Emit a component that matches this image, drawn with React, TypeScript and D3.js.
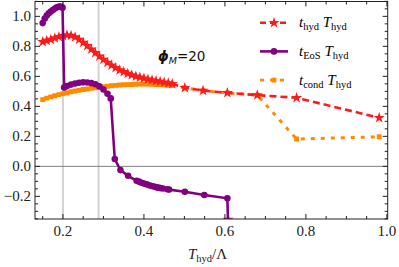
import * as d3 from "d3";

// t_hyd T_hyd (red stars, dashed)
const hydX = [0.15, 0.16, 0.17, 0.18, 0.19, 0.2, 0.21, 0.22, 0.23, 0.24, 0.25, 0.26, 0.27, 0.28, 0.29, 0.3, 0.31, 0.32, 0.33, 0.34, 0.35, 0.36, 0.37, 0.38, 0.39, 0.4, 0.41, 0.42, 0.43, 0.44, 0.45, 0.46, 0.47, 0.501, 0.546, 0.606, 0.68, 0.777, 0.981];
const hydY = [0.83, 0.838, 0.846, 0.855, 0.863, 0.87, 0.875, 0.872, 0.862, 0.845, 0.825, 0.803, 0.78, 0.757, 0.733, 0.712, 0.692, 0.674, 0.657, 0.642, 0.63, 0.619, 0.609, 0.6, 0.593, 0.587, 0.58, 0.575, 0.57, 0.565, 0.56, 0.555, 0.55, 0.524, 0.505, 0.49, 0.475, 0.457, 0.324];
// lone red star sitting on the lower frame
const hydLoneX = [0.608];
const hydLoneY = [-0.355];

// t_EoS T_hyd (purple dots, solid)
const eosX = [0.15, 0.155, 0.16, 0.165, 0.17, 0.175, 0.18, 0.185, 0.19, 0.195, 0.199, 0.203, 0.21, 0.22, 0.23, 0.24, 0.25, 0.26, 0.27, 0.28, 0.29, 0.3, 0.31, 0.318, 0.328, 0.342, 0.361, 0.382, 0.388, 0.394, 0.4, 0.407, 0.413, 0.419, 0.425, 0.431, 0.436, 0.441, 0.447, 0.458, 0.462, 0.501, 0.549, 0.606, 0.608];
const eosY = [0.955, 0.985, 1.005, 1.02, 1.032, 1.042, 1.052, 1.06, 1.065, 1.066, 1.058, 0.525, 0.535, 0.545, 0.552, 0.557, 0.56, 0.559, 0.555, 0.547, 0.533, 0.512, 0.484, 0.453, 0.049, -0.025, -0.063, -0.096, -0.102, -0.109, -0.115, -0.12, -0.126, -0.131, -0.135, -0.14, -0.142, -0.145, -0.148, -0.153, -0.155, -0.169, -0.191, -0.213, -0.4];

// t_cond T_hyd (orange squares, dotted)
const condX = [0.15, 0.16, 0.17, 0.18, 0.19, 0.2, 0.21, 0.22, 0.23, 0.24, 0.25, 0.26, 0.27, 0.28, 0.29, 0.3, 0.31, 0.32, 0.33, 0.34, 0.35, 0.36, 0.37, 0.38, 0.39, 0.4, 0.41, 0.42, 0.43, 0.44, 0.45, 0.46, 0.47, 0.501, 0.546, 0.606, 0.68, 0.777, 0.981];
const condY = [0.445, 0.455, 0.463, 0.471, 0.478, 0.485, 0.491, 0.497, 0.502, 0.507, 0.512, 0.516, 0.52, 0.524, 0.528, 0.531, 0.534, 0.537, 0.54, 0.542, 0.544, 0.545, 0.546, 0.547, 0.548, 0.548, 0.548, 0.547, 0.546, 0.545, 0.543, 0.541, 0.539, 0.524, 0.505, 0.49, 0.475, 0.182, 0.197];

const xTicks = [0.2, 0.4, 0.6, 0.8, 1.0];
const yTicks = [-0.2, 0.0, 0.2, 0.4, 0.6, 0.8, 1.0];
const markLines = [0.2, 0.288];

const RED = "#ff1a1a";
const PURPLE = "#800080";
const ORANGE = "#ff8a00";
const SERIF = "'Liberation Serif', 'DejaVu Serif', serif";

const W = 399, H = 267;
const left = 35, right = 387.7, top = 1.5, bottom = 219;

const x = d3.scaleLinear().domain([0.131, 1.002]).range([left, right]);
const y = d3.scaleLinear().domain([-0.351, 1.099]).range([bottom, top]);

const zip = (xs: number[], ys: number[]) => xs.map((v, i) => [v, ys[i]] as [number, number]);
const line = d3.line<[number, number]>().x(d => x(d[0])).y(d => y(d[1]));

const star = d3.symbol().type(d3.symbolStar).size(38)()!;
const dot = d3.symbol().type(d3.symbolCircle).size(34)()!;
const square = d3.symbol().type(d3.symbolSquare).size(24)()!;

const minorX = d3.range(0.15, 1.001, 0.05);
const minorY = d3.range(-0.35, 1.1, 0.05);

function Legend({ row, color, dash, marker, sub }: { row: number; color: string; dash?: string; marker: string; sub: string }) {
  const cy = 22.7 + row * 28.7;
  return (
    <g>
      <line x1={260} x2={288} y1={cy} y2={cy} stroke={color} strokeWidth={2.6} strokeDasharray={dash} />
      <path d={marker} transform={`translate(274,${cy})`} fill={color} />
      <text x={299} y={cy + 4.5} fontFamily={SERIF} fontSize={15}>
        <tspan fontStyle="italic">t</tspan>
        <tspan fontSize={10.5} dy={3}>{sub}</tspan>
        <tspan dy={-3} fontStyle="italic"> T</tspan>
        <tspan fontSize={10.5} dy={3}>hyd</tspan>
      </text>
    </g>
  );
}

export default function App() {
  const hyd = zip(hydX, hydY);
  const eos = zip(eosX, eosY);
  const cond = zip(condX, condY);
  return (
    <svg width={W} height={H} style={{ position: "absolute", left: 0, top: 0 }}>
      <defs>
        <clipPath id="plot">
          <rect x={left} y={top} width={right - left} height={bottom - top} />
        </clipPath>
      </defs>
      <rect width={W} height={H} fill="#fff" />
      <g clipPath="url(#plot)">
        {markLines.map(v => (
          <line key={v} x1={x(v)} x2={x(v)} y1={top} y2={bottom} stroke="#d2d2d2" strokeWidth={2} />
        ))}
        <line x1={left} x2={right} y1={y(0)} y2={y(0)} stroke="#808080" strokeWidth={1} />
        <path d={line(cond)!} fill="none" stroke={ORANGE} strokeWidth={3} strokeDasharray="4,6" />
        {cond.map((d, i) => (
          <path key={i} d={square} transform={`translate(${x(d[0])},${y(d[1])})`} fill={ORANGE} />
        ))}
        <path d={line(hyd)!} fill="none" stroke={RED} strokeWidth={2.6} strokeDasharray="7,4" />
        {hyd.map((d, i) => (
          <path key={i} d={star} transform={`translate(${x(d[0])},${y(d[1])})`} fill={RED} />
        ))}
        {zip(hydLoneX, hydLoneY).map((d, i) => (
          <path key={i} d={star} transform={`translate(${x(d[0])},${y(d[1])})`} fill={RED} />
        ))}
        <path d={line(eos)!} fill="none" stroke={PURPLE} strokeWidth={2.6} />
        {eos.map((d, i) => (
          <path key={i} d={dot} transform={`translate(${x(d[0])},${y(d[1])})`} fill={PURPLE} />
        ))}
      </g>

      <rect x={left} y={top} width={right - left} height={bottom - top} fill="none" stroke="#222" strokeWidth={1} />
      {minorX.map(v => {
        const major = xTicks.some(t => Math.abs(t - v) < 1e-6);
        const len = major ? 5 : 3;
        return (
          <g key={"x" + v}>
            <line x1={x(v)} x2={x(v)} y1={bottom} y2={bottom - len} stroke="#222" />
            <line x1={x(v)} x2={x(v)} y1={top} y2={top + len} stroke="#222" />
          </g>
        );
      })}
      {minorY.map(v => {
        const major = yTicks.some(t => Math.abs(t - v) < 1e-6);
        const len = major ? 5 : 3;
        return (
          <g key={"y" + v}>
            <line x1={left} x2={left + len} y1={y(v)} y2={y(v)} stroke="#222" />
            <line x1={right} x2={right - len} y1={y(v)} y2={y(v)} stroke="#222" />
          </g>
        );
      })}
      {xTicks.map(v => (
        <text key={v} x={x(v)} y={236} textAnchor="middle" fontFamily={SERIF} fontSize={15} fill="#222">
          {d3.format(".1f")(v)}
        </text>
      ))}
      {yTicks.map(v => (
        <text key={v} x={31} y={y(v) + 5} textAnchor="end" fontFamily={SERIF} fontSize={15} fill="#222">
          {d3.format(".1f")(v).replace("-", "\u2212")}
        </text>
      ))}

      <text x={188} y={259} fontFamily={SERIF} fontSize={15} fill="#222">
        <tspan fontStyle="italic">T</tspan>
        <tspan fontSize={10.5} dy={3}>hyd</tspan>
        <tspan dy={-3}>/Λ</tspan>
      </text>

      <text x={158} y={61} fontFamily="'DejaVu Sans', sans-serif" fontSize={13.5} fill="#111">
        <tspan fontStyle="italic" fontWeight="bold">ϕ</tspan>
        <tspan fontSize={9.5} fontStyle="italic" dy={3}>M</tspan>
        <tspan dy={-3}>=20</tspan>
      </text>

      <Legend row={0} color={RED} dash="6,4" marker={star} sub="hyd" />
      <Legend row={1} color={PURPLE} marker={dot} sub="EoS" />
      <Legend row={2} color={ORANGE} dash="4,6" marker={square} sub="cond" />
    </svg>
  );
}
